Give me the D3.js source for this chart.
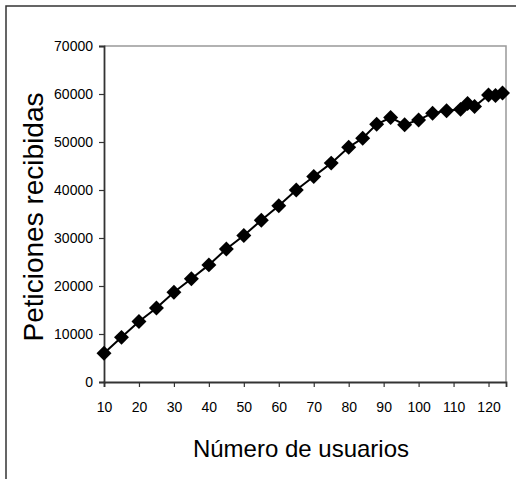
<!DOCTYPE html>
<html>
  <head>
    <style>
      html,
      body { margin: 0; background: #fff; }
      svg { display: block; }
    </style>
    <script src="https://d3js.org/d3.v7.js"></script>
  </head>
  <body>
    <svg class="chart"></svg>

    <script>
      const width = 516;
      const height = 479;

      // users vs. received requests
      const users = [10, 15, 20, 25, 30, 35, 40, 45, 50, 55, 60, 65, 70, 75, 80,
        84, 88, 92, 96, 100, 104, 108, 112, 114, 116, 120, 122, 124];
      const requests = [6000, 9300, 12600, 15400, 18700, 21500, 24400, 27700, 30500,
        33700, 36700, 40000, 42800, 45600, 48900, 50800, 53700, 55100, 53600,
        54600, 56000, 56500, 56800, 58000, 57400, 59800, 59700, 60200];
      const xTicks = [10, 20, 30, 40, 50, 60, 70, 80, 90, 100, 110, 120];
      const yTicks = [0, 10000, 20000, 30000, 40000, 50000, 60000, 70000];

      const plot = { left: 104, top: 46, right: 506, bottom: 382 };

      const svg = d3.select('svg')
        .attr('width', width)
        .attr('height', height);

      // outer chart frame (cut off on the right and bottom)
      svg.append('rect')
        .attr('x', 6)
        .attr('y', 6)
        .attr('width', 530)
        .attr('height', 500)
        .style('fill', 'none')
        .style('stroke', '#333')
        .style('stroke-width', 1.5);

      const x = d3.scaleLinear()
        .domain([10, 125])
        .range([plot.left, plot.right]);

      const y = d3.scaleLinear()
        .domain([0, 70000])
        .range([plot.bottom, plot.top]);

      // grey top and right border of the plot area
      svg.append('path')
        .attr('d', `M${plot.left},${plot.top}H${plot.right}V${plot.bottom}`)
        .style('fill', 'none')
        .style('stroke', '#999')
        .style('stroke-width', 1.5);

      const font = 'Liberation Sans, Arial, sans-serif';

      const xAxis = svg.append('g')
        .attr('transform', `translate(0,${plot.bottom})`)
        .call(d3.axisBottom(x).tickValues(xTicks).tickSize(5).tickPadding(15));

      const yAxis = svg.append('g')
        .attr('transform', `translate(${plot.left},0)`)
        .call(d3.axisLeft(y).tickValues(yTicks).tickSize(5).tickPadding(6).tickFormat(d3.format('d')));

      [xAxis, yAxis].forEach((g) => {
        g.select('.domain').style('stroke', '#333').style('stroke-width', 1.8);
        g.selectAll('.tick line').style('stroke', '#333').style('stroke-width', 1.2);
        g.selectAll('.tick text')
          .style('font-family', font)
          .style('font-size', '14px')
          .style('fill', '#000');
      });

      // line and diamond markers
      const points = users.map((u, i) => [u, requests[i]]);

      svg.append('path')
        .datum(points)
        .attr('d', d3.line().x((d) => x(d[0])).y((d) => y(d[1])))
        .style('fill', 'none')
        .style('stroke', '#000')
        .style('stroke-width', 2);

      const diamond = d3.symbol().type(d3.symbolSquare).size(112);

      svg.selectAll('path.marker')
        .data(points)
        .join('path')
        .attr('class', 'marker')
        .attr('d', diamond)
        .attr('transform', (d) => `translate(${x(d[0])},${y(d[1])}) rotate(45)`)
        .style('fill', '#000');

      // axis titles
      svg.append('text')
        .attr('x', 301)
        .attr('y', 457)
        .attr('text-anchor', 'middle')
        .style('font-family', font)
        .style('font-size', '24px')
        .text('Número de usuarios');

      svg.append('text')
        .attr('transform', 'translate(43,217) rotate(-90)')
        .attr('text-anchor', 'middle')
        .style('font-family', font)
        .style('font-size', '28px')
        .text('Peticiones recibidas');
    </script>
  </body>
</html>
